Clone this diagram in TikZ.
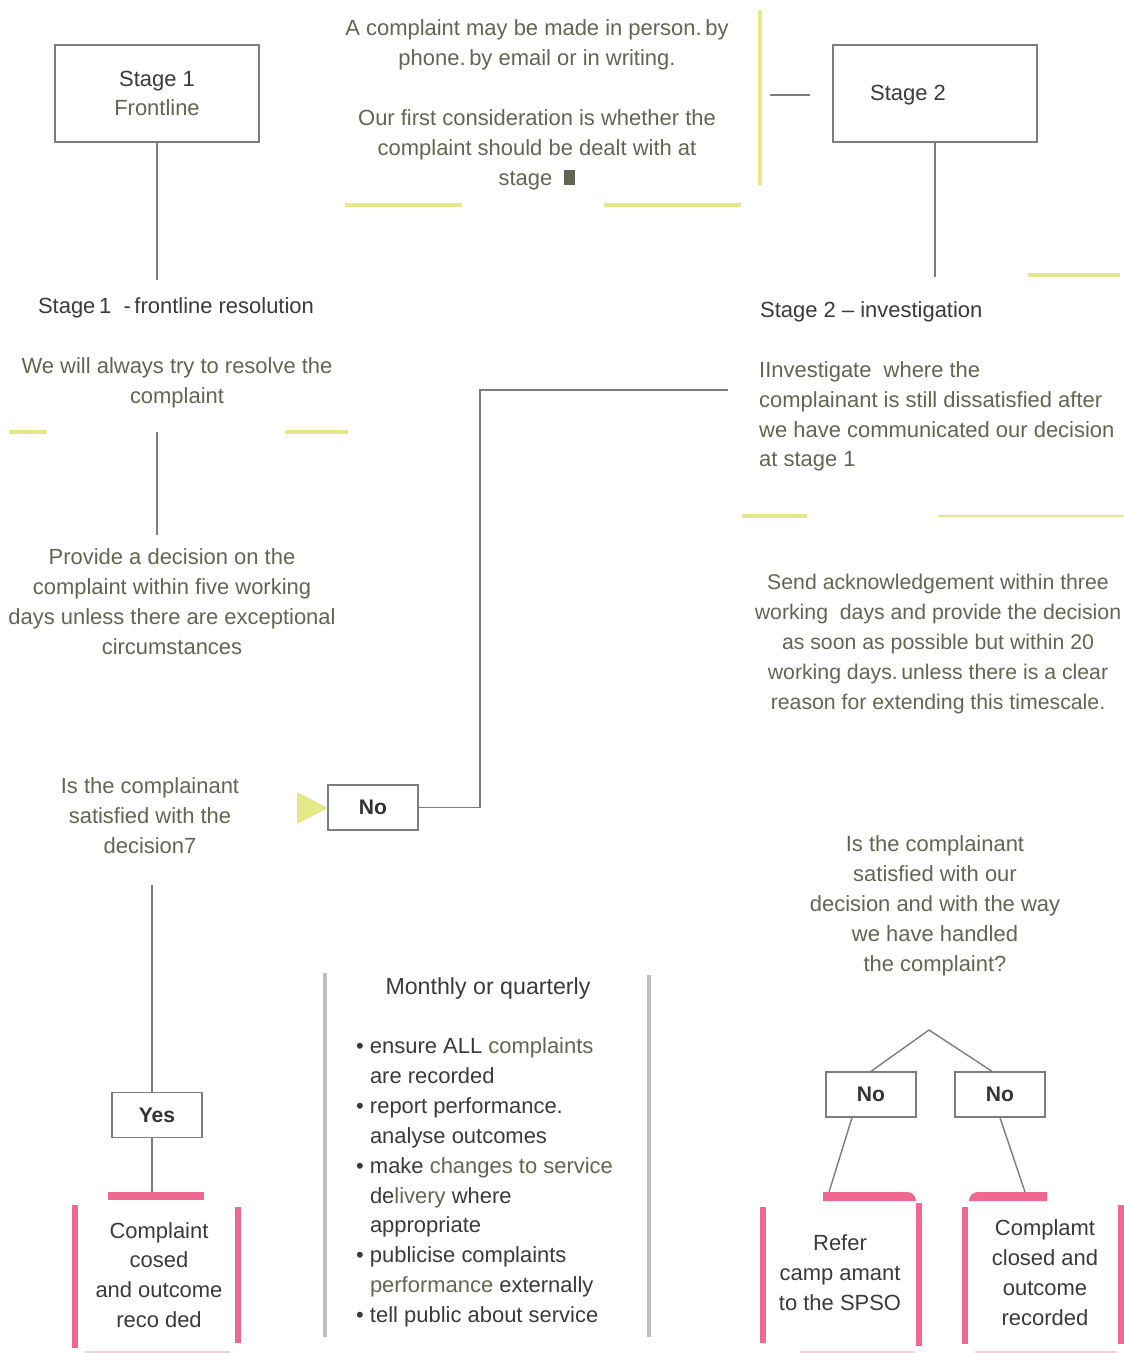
\documentclass[tikz,border=0pt]{standalone}
\usepackage{fontspec}
\setmainfont{Liberation Sans}
\definecolor{darktext}{RGB}{58,58,58}
\definecolor{olivetext}{RGB}{98,101,84}
\definecolor{limeline}{RGB}{228,232,138}
\definecolor{pinkbar}{RGB}{238,104,146}
\definecolor{palepink}{RGB}{249,205,220}
\definecolor{boxgray}{RGB}{125,125,125}
\definecolor{railgray}{RGB}{192,192,192}

\begin{document}
\begin{tikzpicture}[x=0.02cm, y=-0.02cm, font=\fontsize{12.5}{17}\selectfont,
    stagebox/.style={draw=boxgray, line width=0.8pt, minimum width=4.08cm, minimum height=1.94cm, align=center, text=darktext},
    answer/.style={draw=boxgray, line width=0.8pt, fill=white, minimum width=1.8cm, minimum height=0.9cm, inner sep=0pt,
        font=\fontsize{12}{14}\selectfont\bfseries, text=black!80},
    link/.style={color=boxgray, line width=1pt},
    body/.style={align=center, text=olivetext},
    headtext/.style={text=darktext},
    accent/.style={color=limeline, line width=2.3pt},
    pinkrail/.style={color=pinkbar, line width=3pt},
    greyrail/.style={color=railgray, line width=2.4pt}]

    % constants
    \def\pinkbot{1352}

    \useasboundingbox (0,0) rectangle (1124,1353);

    % Stage 1 column
    \node[stagebox] (stageone) at (157,93.5) {Stage 1\\\textcolor{olivetext}{Frontline}};
    \coordinate (oneend) at (157,280);
    \draw[link] (stageone) -- (oneend);

    \node[headtext] (headone) at (176,308) {Stage\,1\ \ -\,frontline resolution};
    \node[body] (resolve) at (177,383) {We will always try to resolve the\\complaint};
    \draw[accent] (9,432) -- (47,432);
    \draw[accent] (285,432) -- (348,432);

    \coordinate (resolvebot) at (157,432);
    \coordinate (providetop) at (157,535);
    \draw[link] (resolvebot) -- (providetop);
    \node[body] (provide) at (172,601.5) {Provide a decision on the\\complaint within five working\\days unless there are exceptional\\circumstances};

    \node[body] (askone) at (150,816) {Is the complainant\\satisfied with the\\decision7};

    % answer No -> stage 2
    \fill[limeline] (297,792) -- (328,808) -- (297,824) -- cycle;
    \node[answer] (noone) at (373,807.5) {No};
    \coordinate (bend) at (480,390);
    \coordinate (invtip) at (728,390);
    \draw[link] (noone) -| (bend) -- (invtip);

    % answer Yes -> closed
    \coordinate (yestop) at (152,885);
    \node[answer] (yesbox) at (157,1115) {Yes};
    \draw[link] (yestop) -- (yestop |- yesbox.north);
    \coordinate (yesend) at (152,1192);
    \draw[link] (yesbox.south -| yesend) -- (yesend);

    \fill[pinkbar] (108,1192) rectangle (204,1200);
    \draw[pinkrail] (75,1205) -- (75,1348);
    \draw[pinkrail] (238,1207) -- (238,1343);
    \draw[palepink, line width=1pt] (85,\pinkbot) -- (230,\pinkbot);
    \node[headtext, align=center] (closedone) at (159,1275) {Complaint\\cosed\\and outcome\\reco ded};

    % intro text
    \node[body] (intro) at (537,45) {A complaint may be made in person.\,by\\phone.\,by email or in writing.};
    \node[body] (consider) at (537,149.5) {Our first consideration is whether the\\complaint should be dealt with at\\stage \ {\color{olivetext}\rule{0.22cm}{0.3cm}}};
    \draw[accent] (760,10) -- (760,185);
    \draw[accent] (345,205) -- (462,205);
    \draw[accent] (604,205) -- (741,205);

    % Stage 2 column
    \coordinate (twostub) at (770,95);
    \coordinate (twostubend) at (810,95);
    \draw[link] (twostub) -- (twostubend);
    \node[stagebox] (stagetwo) at (935,93.5) {};
    \node[headtext, anchor=west] (stagetwolabel) at (864,95) {Stage 2};
    \coordinate (twoend) at (935,277);
    \draw[link] (stagetwo) -- (twoend);
    \draw[accent] (1028,275) -- (1120,275);

    \node[headtext, anchor=west] (headtwo) at (754,312) {Stage 2 – investigation};
    \node[body, align=left, anchor=west] (investigate) at (753,416.5) {IInvestigate\ \ where the\\complainant is still dissatisfied after\\we have communicated our decision\\at stage 1};
    \draw[accent, line width=2.8pt] (742,516) -- (807,516);
    \draw[accent, line width=1.4pt] (938,516) -- (1124,516);

    \node[body, font=\fontsize{12.1}{17}\selectfont] (acknowledge) at (938,644) {Send acknowledgement within three\\working\ \ days and provide the decision\\as soon as possible but within 20\\working days.\,unless there is a clear\\reason for extending this timescale.};

    \node[body] (asktwo) at (935,906) {Is the complainant\\satisfied with our\\decision and with the way\\we have handled\\the complaint?};

    % two answers of stage 2
    \coordinate (apex) at (929,1030);
    \node[answer] (noleft) at (871,1094.5) {No};
    \node[answer] (noright) at (1000,1094.5) {No};
    \draw[link, line width=0.8pt] (noleft.north) -- (apex) -- ([xshift=-0.16cm]noright.north);
    \coordinate (referend) at (829,1192);
    \coordinate (closedend) at (1025,1192);
    \draw[link, line width=0.8pt] ([xshift=-0.38cm]noleft.south) -- (referend);
    \draw[link, line width=0.8pt] (noright.south) -- (closedend);

    \fill[pinkbar] (823,1201) -- (823,1192) -- (907,1192) arc[start angle=90, end angle=0, radius=0.18cm] -- cycle;
    \fill[pinkbar] (1047,1201) -- (1047,1192) -- (978,1192) arc[start angle=90, end angle=180, radius=0.18cm] -- cycle;
    \draw[pinkrail] (763,1207) -- (763,1343);
    \draw[pinkrail] (919,1203) -- (919,1346);
    \draw[pinkrail] (965,1207) -- (965,1344);
    \draw[pinkrail] (1121,1205) -- (1121,1344);
    \draw[palepink, line width=1pt] (800,\pinkbot) -- (915,\pinkbot);
    \draw[palepink, line width=1pt] (975,\pinkbot) -- (1117,\pinkbot);
    \node[headtext, align=center] (refer) at (840,1273) {Refer\\camp amant\\to the SPSO};
    \node[headtext, align=center] (closedtwo) at (1045,1272.5) {Complamt\\closed and\\outcome\\recorded};

    % monthly panel
    \draw[greyrail] (325,973) -- (325,1337);
    \draw[greyrail] (649,975) -- (649,1337);
    \node[headtext, font=\fontsize{13.2}{17}\selectfont] (monthly) at (488,988) {Monthly or quarterly};
    \node[headtext, align=left, anchor=west] (tasks) at (350,1182.5) {%
        \textbullet\ ensure ALL \textcolor{olivetext}{complaints}\\
        \phantom{\textbullet\ }are recorded\\
        \textbullet\ report performance.\\
        \phantom{\textbullet\ }analyse outcomes\\
        \textbullet\ make \textcolor{olivetext}{changes to service}\\
        \phantom{\textbullet\ }de\textcolor{olivetext}{livery} where\\
        \phantom{\textbullet\ }appropriate\\
        \textbullet\ publicise complaints\\
        \phantom{\textbullet\ }\textcolor{olivetext}{performance} externally\\
        \textbullet\ tell public about service};

\end{tikzpicture}
\end{document}
